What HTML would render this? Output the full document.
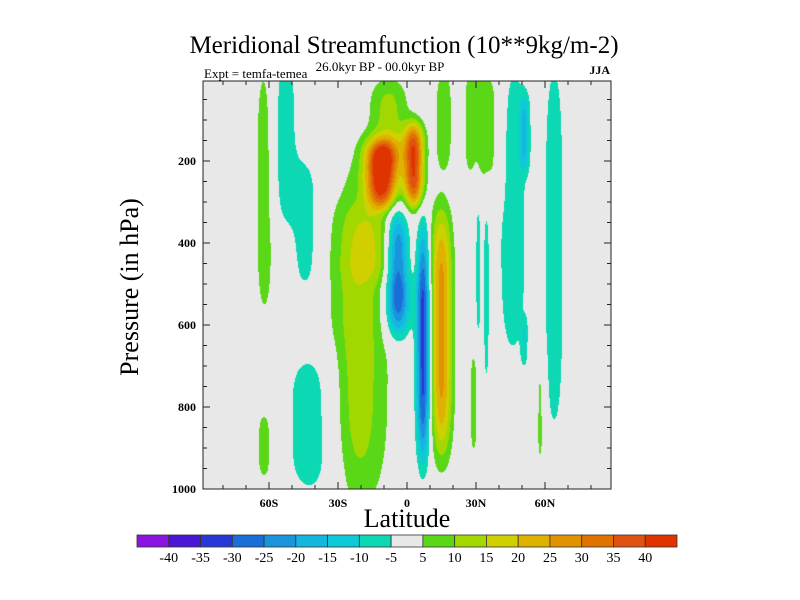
<!DOCTYPE html>
<html><head><meta charset="utf-8">
<style>
body{margin:0;background:#fff;width:800px;height:600px;overflow:hidden;position:relative;font-family:"Liberation Serif",serif;}
#field{position:absolute;left:203px;top:81px;}
#ov{position:absolute;left:0;top:0;}
</style></head>
<body>
<canvas id="field" width="408" height="408"></canvas>
<svg id="ov" width="800" height="600" xmlns="http://www.w3.org/2000/svg" font-family="Liberation Serif, serif">
<text x="404" y="53" font-size="25" text-anchor="middle">Meridional Streamfunction (10**9kg/m-2)</text>
<text x="380" y="71" font-size="13" text-anchor="middle">26.0kyr BP - 00.0kyr BP</text>
<text x="204" y="78" font-size="13">Expt = temfa-temea</text>
<text x="610" y="74" font-size="12" font-weight="bold" text-anchor="end">JJA</text>
<text transform="translate(138,287) rotate(-90)" font-size="26" text-anchor="middle">Pressure (in hPa)</text>
<text x="407" y="527" font-size="26" text-anchor="middle">Latitude</text>
<rect x="203" y="81" width="408" height="408" fill="none" stroke="#222" stroke-width="1"/>
<g id="axes"></g>
<g id="cbar"></g>
</svg>
<script>
// Colour levels and legend
const levels=[-40,-35,-30,-25,-20,-15,-10,-5,5,10,15,20,25,30,35,40];
const colors=["#8a14e0","#4a16d6","#2838d6","#1a6ed8","#1a94dc","#14b6e0","#0ecad8","#0cd8b4","#e8e8e8","#5ad818","#a2d800","#d0d000","#e0b200","#e09200","#e07200","#e05210","#e03400"];
const yTicks=[200,400,600,800,1000];
const xTickVals=[-60,-30,0,30,60];
const xTickLabels=["60S","30S","0","30N","60N"];
// Contour features: centre lat, centre pressure, half-width (deg), half-depth (hPa), peak value
const featLat=[-62,-53,-44,-62,-41,-20,-22,-11,3,-10,-4,7,15,16,27.5,33,38,31,34.5,29,46,51,51,64,58,-8,-9];
const featP=[270,150,360,895,840,650,630,235,210,200,470,640,620,100,105,100,130,470,530,790,320,130,640,410,810,110,400];
const featW=[3,4,4,2.5,9,10,4,9,6,7,7,4,6,3,2,1.5,2.5,0.8,0.8,1.2,5,2,0.8,3.5,1.2,8,11];
const featD=[280,180,140,75,160,340,250,95,120,60,180,340,340,110,115,110,140,140,180,110,330,90,45,420,120,110,80];
const featV=[8,-8,-8,8,-8,8,6,40,38,8,-33,-33,27,8,7,7,7,-7,-7,7,-8,-12,-7,-8,7,12,8];

const X0=203,W=408,Y0=81,H=408;
function xScale(lat){return 407+lat*2.3;}
function yScale(p){return 489-(1000-p)*0.41;}
function latOf(px){return (px-407)/2.3;}
function pOf(py){return 1000-(489-py)/0.41;}
function hex(c){return [parseInt(c.slice(1,3),16),parseInt(c.slice(3,5),16),parseInt(c.slice(5,7),16)];}
const rgb=colors.map(hex);
function field(lat,p){
  let s=0;
  for(let k=0;k<featLat.length;k++){
    const dx=(lat-featLat[k])/featW[k], dp=(p-featP[k])/featD[k];
    const u=dx*dx+dp*dp*dp*dp;
    const a=Math.abs(featV[k]);
    s+=featV[k]*Math.exp(-Math.log(a/5)*u);
  }
  return s;
}
const cv=document.getElementById('field');const ctx=cv.getContext('2d');
const img=ctx.createImageData(W,H);
for(let j=0;j<H;j++){const p=pOf(Y0+j+0.5);
  for(let i=0;i<W;i++){const v=field(latOf(X0+i+0.5),p);
    let c=0;while(c<levels.length&&v>=levels[c])c++;
    const o=(j*W+i)*4;img.data[o]=rgb[c][0];img.data[o+1]=rgb[c][1];img.data[o+2]=rgb[c][2];img.data[o+3]=255;}}
ctx.putImageData(img,0,0);

const NS="http://www.w3.org/2000/svg";
const ax=document.getElementById('axes');
function mk(tag,attrs,parent){const e=document.createElementNS(NS,tag);for(const k in attrs)e.setAttribute(k,attrs[k]);parent.appendChild(e);return e;}
for(let p=50;p<=1000;p+=50){const y=yScale(p);const major=p%200===0;const L=major?7:4;
  const t1=mk('line',{x1:X0,x2:X0+L,y1:y,y2:y,stroke:'#222'},ax);
  
  
  const t2=mk('line',{x1:X0+W-L,x2:X0+W,y1:y,y2:y,stroke:'#222'},ax);
  
  }
yTicks.forEach(p=>{const t=mk('text',{x:196,y:yScale(p)+4,'font-size':12,'font-weight':'bold','text-anchor':'end'},ax);t.textContent=p;
  
  });
for(let lat=-80;lat<=80;lat+=10){const x=xScale(lat);const major=lat%30===0;const L=major?7:4;
  const t1=mk('line',{x1:x,x2:x,y1:Y0+H-L,y2:Y0+H,stroke:'#222'},ax);
  
  
  const t2=mk('line',{x1:x,x2:x,y1:Y0,y2:Y0+L,stroke:'#222'},ax);
  
  }
xTickVals.forEach((v,i)=>{const t=mk('text',{x:xScale(v),y:507,'font-size':12,'font-weight':'bold','text-anchor':'middle'},ax);t.textContent=xTickLabels[i];
  
  });
// colour bar
const cb=document.getElementById('cbar');const cbx=137,cbw=540,cby=535,cbh=12,bw=cbw/colors.length;
colors.forEach((c,i)=>{const r=mk('rect',{x:cbx+i*bw,y:cby,width:bw,height:cbh,fill:c,stroke:'#333','stroke-width':0.8},cb);
  
  });
levels.forEach((v,i)=>{const t=mk('text',{x:cbx+(i+1)*bw,y:562,'font-size':14,'text-anchor':'middle'},cb);t.textContent=v;
  
  });
</script>
</body></html>
